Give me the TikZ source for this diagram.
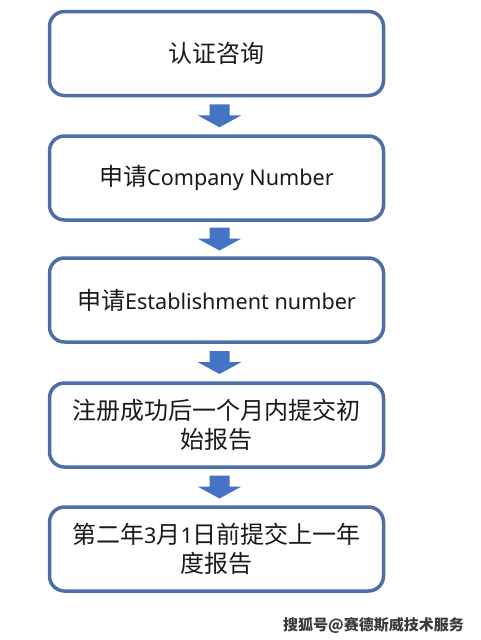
\documentclass[tikz,border=0pt]{standalone}
\usepackage{fontspec}
\setmainfont[Scale=0.9]{Noto Sans}
\newfontfamily\cjk{Noto Sans CJK SC}
\usetikzlibrary{calc}
\definecolor{boxline}{HTML}{4E6EA6}
\definecolor{arrowblue}{HTML}{4472C4}
\definecolor{txt}{HTML}{1A1A1A}
\definecolor{wm}{HTML}{3A3A3A}
\tikzset{
  stepbox/.style={draw=boxline, line width=3.5pt, rounded corners=15pt, fill=white,
    minimum width=334pt, minimum height=84pt, inner sep=0pt, align=center,
    text=txt, font=\fontsize{24}{29}\selectfont},
  downarrow/.pic={\fill[arrowblue] (-10,-11.5) -- (10,-11.5) -- (10,-0.5) -- (22,-0.5) -- (0,11.5) -- (-22,-0.5) -- (-10,-0.5) -- cycle;}
}
\begin{document}
\begin{tikzpicture}[x=1pt,y=-1pt]
\useasboundingbox (0,0) rectangle (481,640);
\node[stepbox] (b1) at (216.5,53.5) {\cjk 认证咨询};
\node[stepbox] (b2) at (216.5,178) {{\cjk 申请}Company Number};
\node[stepbox] (b3) at (216.5,300) {{\cjk 申请}Establishment number};
\node[stepbox] (b4) at (216.5,425) {\cjk 注册成功后一个月内提交初\\\cjk 始报告};
\node[stepbox] (b5) at (216.5,549) {{\cjk 第二年}3{\cjk 月}1{\cjk 日前提交上一年}\\\cjk 度报告};
\foreach \a/\b in {b1/b2,b2/b3,b3/b4,b4/b5}
  \path ($(\a.south)!0.5!(\b.north)+(3,0)$) pic {downarrow};
\node[text=wm, font=\cjk\bfseries\fontsize{15}{15}\selectfont, anchor=east] (wm) at (467,625) {搜狐号@赛德斯威技术服务};
\end{tikzpicture}
\end{document}
